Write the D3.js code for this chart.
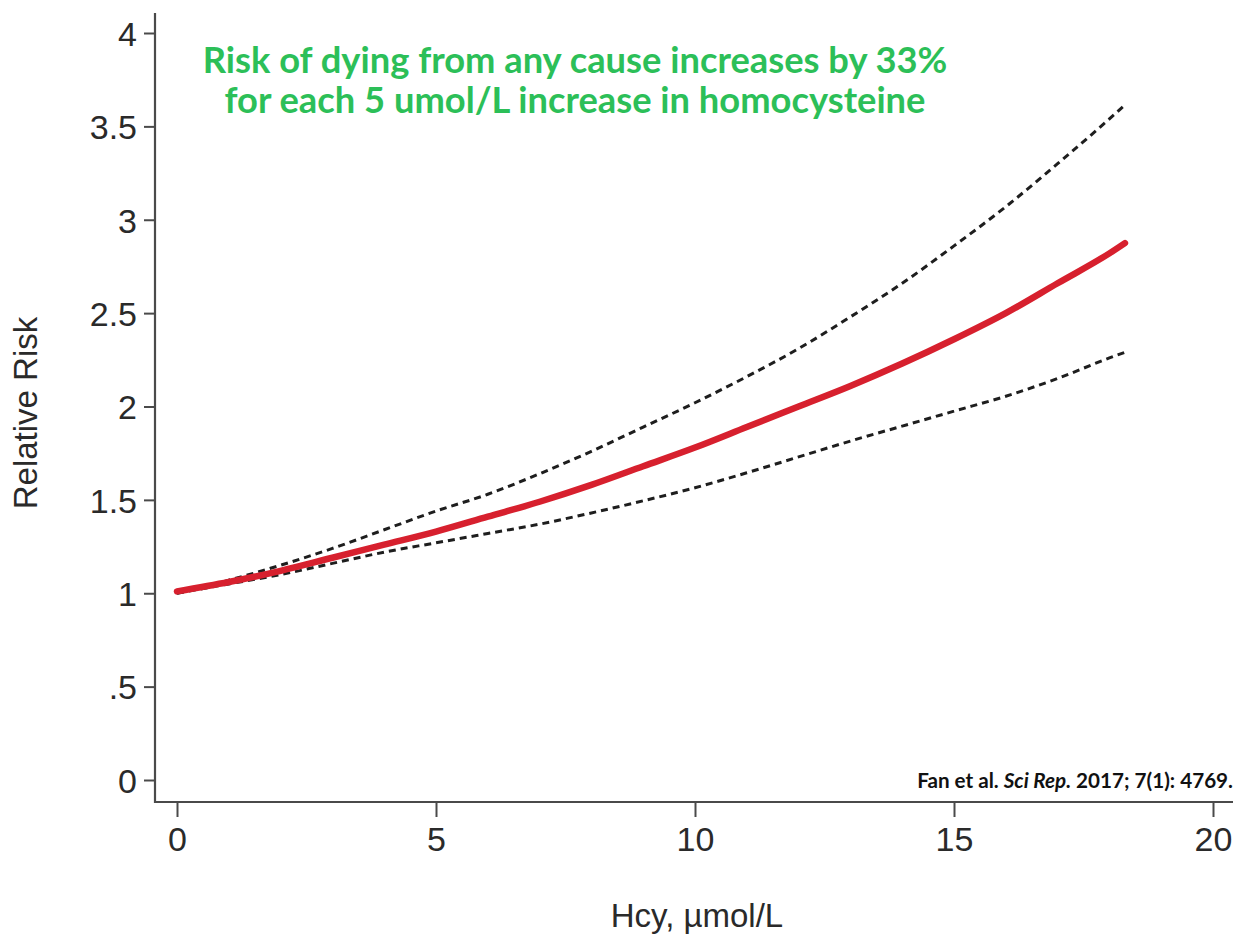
<!DOCTYPE html>
<html>
<head>
<meta charset="utf-8">
<script src="https://cdn.jsdelivr.net/npm/d3@7"></script>
<style>
  html, body { margin: 0; padding: 0; background: #fff; }
  svg { display: block; }
</style>
</head>
<body>
<svg id="chart" width="1241" height="936"></svg>
<script>
// ---- data ----
const hcy   = [0, 1, 2, 3, 4, 5, 6, 7, 8, 9, 10, 11, 12, 13, 14, 15, 16, 17, 18, 18.3];
const rr    = [1.01, 1.06, 1.12, 1.19, 1.26, 1.33, 1.41, 1.49, 1.58, 1.68, 1.78, 1.89, 2.00, 2.11, 2.23, 2.36, 2.50, 2.66, 2.82, 2.875];
const upper = [1.00, 1.07, 1.15, 1.24, 1.34, 1.44, 1.53, 1.64, 1.76, 1.89, 2.02, 2.16, 2.31, 2.48, 2.66, 2.86, 3.07, 3.30, 3.54, 3.615];
const lower = [1.00, 1.05, 1.10, 1.16, 1.22, 1.27, 1.32, 1.37, 1.43, 1.495, 1.565, 1.645, 1.73, 1.815, 1.895, 1.975, 2.055, 2.15, 2.26, 2.29];
const xTicks = [0, 5, 10, 15, 20];
const yTicks = [0, 0.5, 1, 1.5, 2, 2.5, 3, 3.5, 4];
const yTickLabels = ["0", ".5", "1", "1.5", "2", "2.5", "3", "3.5", "4"];
const titleLines = ["Risk of dying from any cause increases by 33%", "for each 5 umol/L increase in homocysteine"];
const xLabel = "Hcy, \u00b5mol/L";
const yLabel = "Relative Risk";

// ---- layout ----
const svg = d3.select("#chart");
const x = d3.scaleLinear().domain([0, 20]).range([177, 1213]);
const y = d3.scaleLinear().domain([0, 4]).range([780, 33]);
const axisX0 = 155, axisY0 = 802;
const axisColor = "#4a4a4a";
const textColor = "#2a2a2a";
const tickFont = "'Liberation Sans', Arial, sans-serif";

// y axis
const yAxis = d3.axisLeft(y).tickValues(yTicks)
  .tickFormat((d, i) => yTickLabels[i]).tickSize(11).tickPadding(7);
const gy = svg.append("g").attr("transform", `translate(${axisX0},0)`).call(yAxis);
gy.select(".domain").remove();
gy.selectAll(".tick line").attr("stroke", axisColor).attr("stroke-width", 2);
gy.selectAll(".tick text").attr("font-family", tickFont).attr("font-size", 34)
  .attr("fill", textColor).attr("dy", "0.36em");

// x axis
const xAxis = d3.axisBottom(x).tickValues(xTicks).tickFormat(d3.format("d"))
  .tickSize(15).tickPadding(10);
const gx = svg.append("g").attr("transform", `translate(0,${axisY0})`).call(xAxis);
gx.select(".domain").remove();
gx.selectAll(".tick line").attr("stroke", axisColor).attr("stroke-width", 2);
gx.selectAll(".tick text").attr("font-family", tickFont).attr("font-size", 34)
  .attr("fill", textColor).attr("dy", "0.72em");

// axis lines
svg.append("line").attr("x1", axisX0).attr("x2", axisX0).attr("y1", 13).attr("y2", axisY0 + 1)
  .attr("stroke", axisColor).attr("stroke-width", 2.2);
svg.append("line").attr("x1", axisX0 - 1).attr("x2", 1233).attr("y1", axisY0).attr("y2", axisY0)
  .attr("stroke", axisColor).attr("stroke-width", 2.2);

// axis titles
svg.append("text").attr("transform", `translate(37,413) rotate(-90)`)
  .attr("text-anchor", "middle").attr("font-family", tickFont).attr("font-size", 33)
  .attr("fill", textColor).text(yLabel);
svg.append("text").attr("x", 697).attr("y", 927)
  .attr("text-anchor", "middle").attr("font-family", tickFont).attr("font-size", 33)
  .attr("fill", textColor).text(xLabel);

// curves
const line = d3.line().x((d, i) => x(hcy[i])).y(d => y(d)).curve(d3.curveMonotoneX);
svg.append("path").datum(upper).attr("d", line).attr("fill", "none")
  .attr("stroke", "#1e1e1e").attr("stroke-width", 3).attr("stroke-dasharray", "7,5");
svg.append("path").datum(lower).attr("d", line).attr("fill", "none")
  .attr("stroke", "#1e1e1e").attr("stroke-width", 3).attr("stroke-dasharray", "7,5");
svg.append("path").datum(rr).attr("d", line).attr("fill", "none")
  .attr("stroke", "#d7202e").attr("stroke-width", 6.5).attr("stroke-linecap", "round");

// annotation
const titleFont = "Lato, 'Open Sans', sans-serif";
const t1 = svg.append("text").attr("x", 575).attr("y", 73).attr("text-anchor", "middle")
  .attr("font-family", titleFont).attr("font-weight", 700).attr("font-size", 28)
  .attr("fill", "#2cbf58").text(titleLines[0]);
const w1 = t1.node().getComputedTextLength();
const titleSize = 28 * 745 / w1;
t1.attr("font-size", titleSize);
svg.append("text").attr("x", 575).attr("y", 113).attr("text-anchor", "middle")
  .attr("font-family", titleFont).attr("font-weight", 700).attr("font-size", titleSize)
  .attr("fill", "#2cbf58").text(titleLines[1]);

// citation
const cite = svg.append("text").attr("x", 1233).attr("y", 788).attr("text-anchor", "end")
  .attr("font-family", titleFont).attr("font-weight", 700).attr("font-size", 15).attr("fill", "#111");
cite.append("tspan").text("Fan et al. ");
cite.append("tspan").attr("font-style", "italic").text("Sci Rep.");
cite.append("tspan").text(" 2017; 7(1): 4769.");
const wc = cite.node().getComputedTextLength();
cite.attr("font-size", 15 * 316 / wc);
</script>
</body>
</html>
